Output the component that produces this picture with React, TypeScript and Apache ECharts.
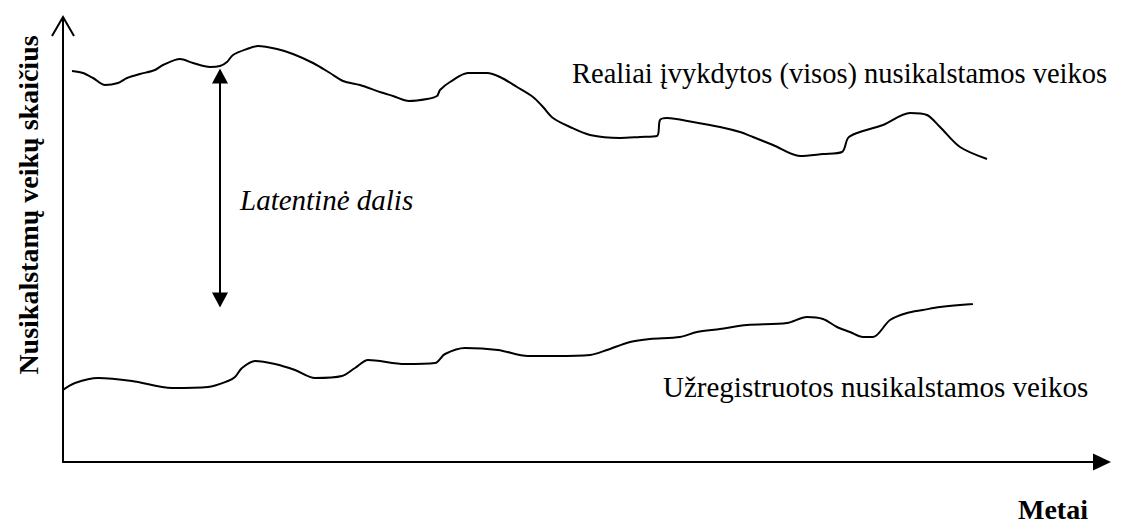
import React, { useEffect, useRef } from "react";
import * as echarts from "echarts";

// Realiai įvykdytos (visos) nusikalstamos veikos — [metai, skaičius]
const realCrimes: [number, number][] = [
  [9, 391], [20, 389], [30, 384], [42, 377], [55, 379], [64, 384], [77, 388],
  [92, 392], [100, 397], [117, 403], [130, 399], [147, 395], [157, 396],
  [164, 400], [170, 407], [184, 413], [195, 416], [214, 413], [230, 408],
  [250, 399], [267, 389], [280, 381], [297, 377], [317, 370], [330, 366],
  [346, 361], [364, 363], [374, 366], [377, 372], [387, 380], [405, 389],
  [424, 389], [437, 385], [454, 375], [470, 365], [480, 355], [490, 344],
  [507, 335], [527, 327], [557, 324], [577, 325], [594, 326], [597, 342],
  [604, 344], [630, 340], [657, 335], [677, 330], [690, 325], [710, 317],
  [737, 306], [760, 308], [779, 310], [785, 324], [794, 329], [820, 337],
  [847, 349], [864, 347], [877, 335], [897, 315], [924, 303],
];

// Užregistruotos nusikalstamos veikos — [metai, skaičius]
const registeredCrimes: [number, number][] = [
  [0, 72], [12, 79], [35, 84], [69, 81], [109, 74], [145, 75], [165, 81],
  [172, 85], [179, 94], [192, 101], [212, 98], [232, 92], [252, 84],
  [279, 86], [292, 94], [305, 102], [342, 98], [372, 99], [382, 108],
  [402, 114], [435, 112], [465, 106], [492, 106], [527, 107], [544, 112],
  [567, 120], [587, 123], [617, 125], [634, 130], [657, 133], [684, 137],
  [724, 139], [744, 145], [760, 143], [774, 135], [787, 130], [800, 125],
  [810, 125], [827, 142], [844, 149], [860, 152], [877, 155], [910, 158],
];

// Latentinė dalis arrow: [x, top, bottom]
const latentGap: [number, number, number] = [157, 386, 162];

const xRange = [0, 1039];
const yRange = [0, 444];

const labels = {
  yName: "Nusikalstamų veikų skaičius",
  xName: "Metai",
  real: "Realiai įvykdytos (visos) nusikalstamos veikos",
  registered: "Užregistruotos nusikalstamos veikos",
  latent: "Latentinė dalis",
};

const FONT = "'Liberation Serif', 'Times New Roman', serif";

export default function App() {
  const ref = useRef<HTMLDivElement>(null);
  useEffect(() => {
    if (!ref.current) return;
    const chart = echarts.init(ref.current, undefined, { renderer: "svg" });
    const lineStyle = { color: "#000", width: 2 };
    chart.setOption({
      animation: false,
      backgroundColor: "#fff",
      grid: { left: 63, top: 18, right: 19, bottom: 64, containLabel: false },
      xAxis: {
        type: "value",
        min: xRange[0],
        max: xRange[1],
        axisLine: {
          show: true,
          onZero: false,
          symbol: ["none", "triangle"],
          symbolSize: [17, 18],
          lineStyle: { color: "#000", width: 2 },
        },
        axisTick: { show: false },
        axisLabel: { show: false },
        splitLine: { show: false },
      },
      yAxis: {
        type: "value",
        min: yRange[0],
        max: yRange[1],
        axisLine: {
          show: true,
          onZero: false,
          lineStyle: { color: "#000", width: 2 },
        },
        axisTick: { show: false },
        axisLabel: { show: false },
        splitLine: { show: false },
      },
      series: [
        {
          type: "line",
          name: labels.real,
          data: realCrimes,
          smooth: 0.3,
          showSymbol: false,
          lineStyle,
          markLine: {
            silent: true,
            symbol: ["triangle", "triangle"],
            symbolSize: [16, 15],
            label: { show: false },
            lineStyle: { color: "#000", width: 2, type: "solid" },
            data: [
              [
                { coord: [latentGap[0], latentGap[1]] },
                { coord: [latentGap[0], latentGap[2]] },
              ],
            ],
          },
        },
        {
          type: "line",
          name: labels.registered,
          data: registeredCrimes,
          smooth: 0.3,
          showSymbol: false,
          lineStyle,
        },
      ],
      graphic: [
        {
          type: "polyline",
          shape: { points: [[52, 36], [63, 17], [74, 36]] },
          style: { stroke: "#000", lineWidth: 2, fill: "none" },
        },
        {
          type: "text",
          x: 28,
          y: 205,
          rotation: Math.PI / 2,
          style: {
            text: labels.yName,
            font: `bold 28px ${FONT}`,
            fill: "#000",
            align: "center",
            verticalAlign: "middle",
          },
        },
        {
          type: "text",
          x: 1018,
          y: 509,
          style: {
            text: labels.xName,
            font: `bold 28px ${FONT}`,
            fill: "#000",
            align: "left",
            verticalAlign: "middle",
          },
        },
        {
          type: "text",
          x: 572,
          y: 73,
          style: {
            text: labels.real,
            font: `28.5px ${FONT}`,
            fill: "#000",
            align: "left",
            verticalAlign: "middle",
          },
        },
        {
          type: "text",
          x: 663,
          y: 387,
          style: {
            text: labels.registered,
            font: `29px ${FONT}`,
            fill: "#000",
            align: "left",
            verticalAlign: "middle",
          },
        },
        {
          type: "text",
          x: 240,
          y: 200,
          style: {
            text: labels.latent,
            font: `italic 29px ${FONT}`,
            fill: "#000",
            align: "left",
            verticalAlign: "middle",
          },
        },
      ],
    });
    return () => chart.dispose();
  }, []);
  return (
    <div
      ref={ref}
      style={{ position: "fixed", left: 0, top: 0, width: 1121, height: 526 }}
    />
  );
}
